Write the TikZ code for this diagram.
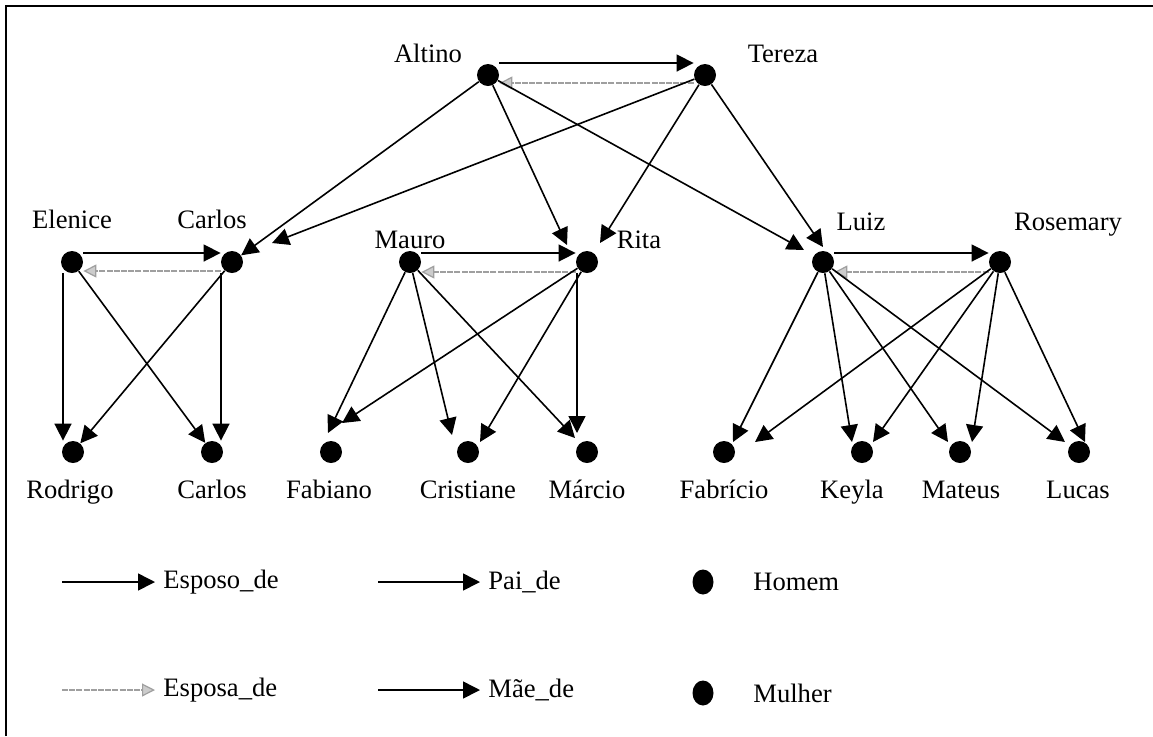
\documentclass[tikz,border=0pt]{standalone}
\usepackage{fontspec}
\setmainfont{Liberation Serif}
\usetikzlibrary{arrows.meta,calc,shapes.geometric}

\begin{document}
\begin{tikzpicture}[x=0.5pt, y=-0.5pt, font=\fontsize{13.3}{16}\selectfont]
    % Define styles
    \tikzstyle{pessoa} = [circle, fill=black, inner sep=0pt, minimum size=11pt]
    \tikzstyle{marca} = [ellipse, fill=black, inner sep=0pt, minimum width=10.5pt, minimum height=12.5pt]
    \tikzstyle{nome} = [anchor=base, inner sep=0pt]
    \tikzstyle{legenda} = [anchor=west, inner sep=4pt]
    \tikzstyle{esposo} = [line width=0.8pt, -{Triangle[length=8.5pt,width=8.5pt]}]
    \tikzstyle{filho} = [line width=0.8pt, -{Triangle[length=8.5pt,width=8.5pt]}]
    \tikzstyle{esposa} = [line width=0.6pt, gray!75, dash pattern=on 3pt off 0.6pt, -{Triangle[length=6.5pt,width=6.5pt,fill=gray!40]}]

    \useasboundingbox (0,0) rectangle (1153,736);
    \draw[line width=0.8pt] (6,736) -- (6,6) -- (1153,6);

    % Grandparents
    \node[pessoa] (altino) at (488,75) {};
    \node[pessoa] (tereza) at (705,75) {};
    \node[nome] (naltino) at (428,62) {Altino};
    \node[nome] (ntereza) at (783,62) {Tereza};

    % Parents
    \node[pessoa] (elenice) at (72,262) {};
    \node[pessoa] (carlos) at (232,262) {};
    \node[pessoa] (mauro) at (410,262) {};
    \node[pessoa] (rita) at (587,262) {};
    \node[pessoa] (luiz) at (823,262) {};
    \node[pessoa] (rosemary) at (1000,262) {};
    \node[nome] (nelenice) at (72,228) {Elenice};
    \node[nome] (ncarlos) at (212,228) {Carlos};
    \node[nome] (nmauro) at (410,248) {Mauro};
    \node[nome] (nrita) at (639,248) {Rita};
    \node[nome] (nluiz) at (861,230) {Luiz};
    \node[nome] (nrosemary) at (1068,230) {Rosemary};

    % Children
    \node[pessoa] (rodrigo) at (73,452) {};
    \node[pessoa] (carlosf) at (212,452) {};
    \node[pessoa] (fabiano) at (331,452) {};
    \node[pessoa] (cristiane) at (468,452) {};
    \node[pessoa] (marcio) at (587,452) {};
    \node[pessoa] (fabricio) at (724,452) {};
    \node[pessoa] (keyla) at (862,452) {};
    \node[pessoa] (mateus) at (960,452) {};
    \node[pessoa] (lucas) at (1079,452) {};
    \node[nome] (nrodrigo) at (70,498) {Rodrigo};
    \node[nome] (ncarlosf) at (212,498) {Carlos};
    \node[nome] (nfabiano) at (329,498) {Fabiano};
    \node[nome] (ncristiane) at (468,498) {Cristiane};
    \node[nome] (nmarcio) at (587,498) {Márcio};
    \node[nome] (nfabricio) at (724,498) {Fabrício};
    \node[nome] (nkeyla) at (852,498) {Keyla};
    \node[nome] (nmateus) at (961,498) {Mateus};
    \node[nome] (nlucas) at (1078,498) {Lucas};

    % Couples
    \draw[esposo] ([yshift=6pt]altino.east) -- ([yshift=6pt]tereza.west);
    \draw[esposa] ([yshift=-4pt]tereza.west) -- ([yshift=-4pt]altino.east);
    \draw[esposo] ([yshift=4.5pt]elenice.east) -- ([yshift=4.5pt]carlos.west);
    \draw[esposa] ([yshift=-4.5pt]carlos.west) -- ([yshift=-4.5pt]elenice.east);
    \draw[esposo] ([yshift=4.5pt]mauro.east) -- ([yshift=4.5pt]rita.west);
    \draw[esposa] ([yshift=-5pt]rita.west) -- ([yshift=-5pt]mauro.east);
    \draw[esposo] ([yshift=4.5pt]luiz.east) -- ([yshift=4.5pt]rosemary.west);
    \draw[esposa] ([yshift=-5pt]rosemary.west) -- ([yshift=-5pt]luiz.east);

    % Altino and Tereza
    \draw[filho] (altino) -- (carlos);
    \draw[filho] (altino) -- ($(rita)+(-20,-17)$);
    \draw[filho] (altino) -- ($(luiz)+(-19,-12)$);
    \draw[filho] (tereza) -- ($(carlos)+(40,-19)$);
    \draw[filho] (tereza) -- ($(rita)+(13,-19)$);
    \draw[filho] (tereza) -- ($(luiz)+(0,-15)$);

    % Elenice and Carlos
    \draw[filho] ([xshift=-4.5pt]elenice.south) -- ([xshift=-5pt]rodrigo.north);
    \draw[filho] (elenice) -- (carlosf);
    \draw[filho] (carlos) -- (rodrigo);
    \draw[filho] ([xshift=-5.5pt]carlos.south) -- ([xshift=4.5pt]carlosf.north);

    % Mauro and Rita
    \draw[filho] (mauro) -- ($(fabiano)+(-3,-19)$);
    \draw[filho] (mauro) -- ($(cristiane)+(-16,-17)$);
    \draw[filho] (mauro) -- ($(marcio)+(-12,-14)$);
    \draw[filho] (rita) -- ($(fabiano)+(11,-29)$);
    \draw[filho] (rita) -- ($(cristiane)+(12,-10)$);
    \draw[filho] ([xshift=-5pt]rita.south) -- ($(marcio)+(-10,-19)$);

    % Luiz and Rosemary
    \draw[filho] (luiz) -- ($(fabricio)+(9,-10)$);
    \draw[filho] (luiz) -- ($(keyla)+(-10,-10)$);
    \draw[filho] (luiz) -- ($(mateus)+(-12,-10)$);
    \draw[filho] (luiz) -- ($(lucas)+(-14,-10)$);
    \draw[filho] (rosemary) -- ($(fabricio)+(31,-10)$);
    \draw[filho] (rosemary) -- ($(keyla)+(11,-10)$);
    \draw[filho] (rosemary) -- ($(mateus)+(12,-10)$);
    \draw[filho] (rosemary) -- ($(lucas)+(6,-10)$);

    % Legend
    \coordinate (k1) at (62,582);
    \coordinate (k2) at (378,582);
    \coordinate (k3) at (62,690);
    \coordinate (k4) at (378,690);
    \node[legenda] (lesposo) at (155,582) {Esposo\_de};
    \node[legenda] (lpai) at (480,582) {Pai\_de};
    \node[legenda] (lesposa) at (155,690) {Esposa\_de};
    \node[legenda] (lmae) at (480,690) {Mãe\_de};
    \draw[esposo] (k1) -- (lesposo);
    \draw[filho] (k2) -- (lpai);
    \draw[esposa] (k3) -- (lesposa);
    \draw[filho] (k4) -- (lmae);
    \node[marca] (homem) at (703,582) {};
    \node[marca] (mulher) at (703,693) {};
    \node[legenda] (lhomem) at (745,582) {Homem};
    \node[legenda] (lmulher) at (745,693) {Mulher};
\end{tikzpicture}
\end{document}
